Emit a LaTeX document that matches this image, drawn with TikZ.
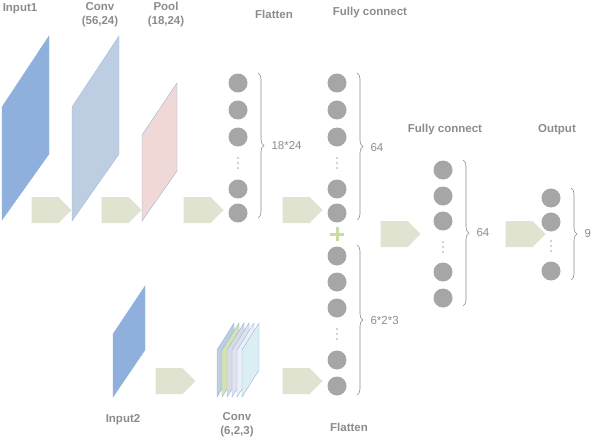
\documentclass[tikz,border=0pt]{standalone}
\usepackage{fontspec}
\setmainfont{Liberation Sans}
\usetikzlibrary{decorations.pathreplacing,shapes.arrows}
\definecolor{txt}{HTML}{8C8C8C}
\definecolor{arr}{HTML}{DFE3D0}
\definecolor{neu}{HTML}{A6A6A6}
\definecolor{plusc}{HTML}{C8DCA8}
\begin{document}
\begin{tikzpicture}[x=1pt,y=-1pt,
  lab/.style={font=\bfseries\fontsize{11.5}{14}\selectfont,text=txt,align=center},
  num/.style={font=\fontsize{11.5}{14}\selectfont,text=txt},
  neuron/.style={circle,fill=neu,minimum size=19pt,inner sep=0},
  blk/.style={single arrow,fill=arr,minimum height=40pt,minimum width=26pt,single arrow head extend=0pt,inner sep=0pt,single arrow tip angle=90},
  br/.style={draw=txt,decorate,decoration={brace,amplitude=6pt},line width=0.6pt}]
\useasboundingbox (0,0) rectangle (608,444);
\newcommand{\vdts}[2]{\foreach \d in {-5,0,5} \fill[neu] (#1,#2+\d) circle (0.8);}
\filldraw[fill={rgb,255:red,143;green,176;blue,220},draw={rgb,255:red,143;green,176;blue,220}] (2,107)--(49,36)--(49,154)--(2,220)--cycle;
\filldraw[fill={rgb,255:red,190;green,206;blue,226},draw={rgb,255:red,160;green,186;blue,220}] (72,107)--(119,36)--(119,154)--(72,221)--cycle;
\filldraw[fill={rgb,255:red,240;green,216;blue,214},draw={rgb,255:red,150;green,180;blue,220}] (142,135)--(177,83)--(177,171)--(142,221)--cycle;
\filldraw[fill={rgb,255:red,143;green,176;blue,220},draw={rgb,255:red,143;green,176;blue,220}] (113,334)--(145,286)--(145,350)--(113,397)--cycle;
\foreach \i/\c in {0/{rgb,255:red,190;green,206;blue,226},1/{rgb,255:red,214;green,226;blue,180},2/{rgb,255:red,215;green,220;blue,228},3/{rgb,255:red,225;green,225;blue,240},4/{rgb,255:red,236;green,240;blue,246},5/{rgb,255:red,218;green,238;blue,244}}
  \filldraw[fill=\c,draw={rgb,255:red,150;green,180;blue,220}] (217+5*\i,350)--(234+5*\i,323)--(234+5*\i,370)--(217+5*\i,397)--cycle;
\node[blk] (a1) at (45,210) {};
\node[blk] (a2) at (115,210) {};
\node[blk] (a3) at (197,210) {};
\node[blk] (a4) at (296,210) {};
\node[blk] (a5) at (394,234) {};
\node[blk] (a6) at (519,234) {};
\node[blk] (a7) at (169,381) {};
\node[blk] (a8) at (296,381) {};
\foreach \y [count=\k] in {83,110,137,189,213} \node[neuron] (f\k) at (238,\y) {};
\vdts{238}{163}
\foreach \y [count=\k] in {83,110,137,189,213} \node[neuron] (t\k) at (337,\y) {};
\vdts{337}{163}
\foreach \y [count=\k] in {256,282,308,360,386} \node[neuron] (b\k) at (337,\y) {};
\vdts{337}{334}
\fill[plusc] (330,232.5) rectangle (344,235.5);
\fill[plusc] (335.5,227) rectangle (338.5,241);
\foreach \y [count=\k] in {170,196,221,272,298} \node[neuron] (g\k) at (443,\y) {};
\vdts{443}{247}
\foreach \y [count=\k] in {198,222,271} \node[neuron] (o\k) at (551,\y) {};
\vdts{551}{246}
\draw[br] (258,73) -- (258,218);
\draw[br] (357,73) -- (357,220);
\draw[br] (357,245) -- (357,395);
\draw[br] (463,160) -- (463,306);
\draw[br] (571,188) -- (571,280);
\node[num,anchor=west] at (268,146) {18*24};
\node[num,anchor=west] at (367,148) {64};
\node[num,anchor=west] at (367,321) {6*2*3};
\node[num,anchor=west] at (473,233) {64};
\node[num,anchor=west] at (581,234) {9};
\node[lab] at (20,9) {Input1};
\node[lab] at (100,15) {Conv\\(56,24)};
\node[lab] at (166,15) {Pool\\(18,24)};
\node[lab] at (274,14) {Flatten};
\node[lab] at (370,13) {Fully connect};
\node[lab] at (445,130) {Fully connect};
\node[lab] at (557,130) {Output};
\node[lab] at (123,420) {Input2};
\node[lab] at (237,425) {Conv\\(6,2,3)};
\node[lab] at (349,427) {Flatten};
\end{tikzpicture}
\end{document}
